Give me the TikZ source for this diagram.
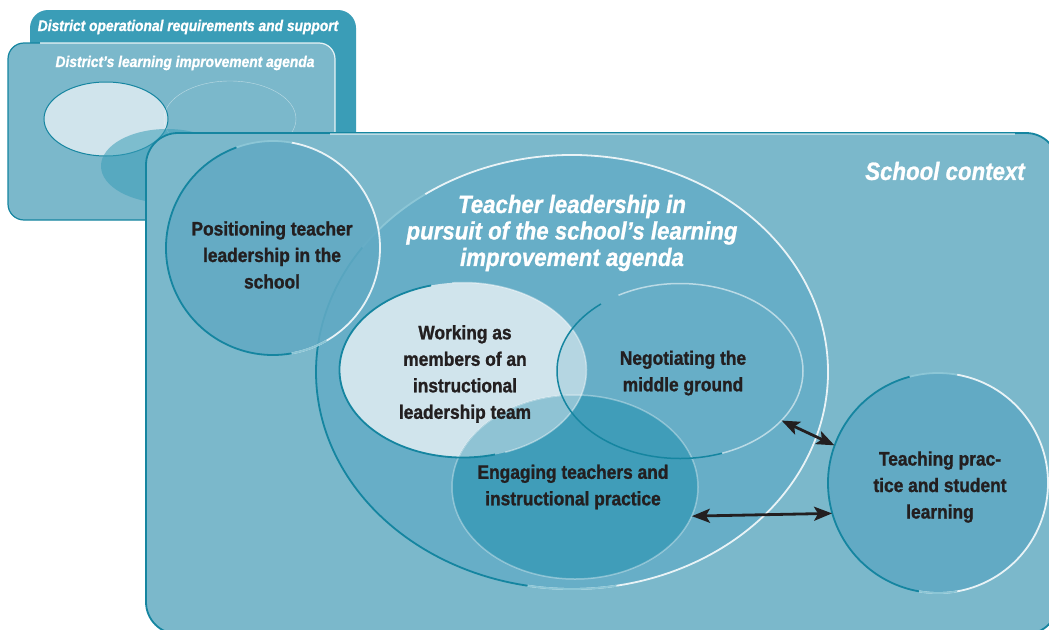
\documentclass[tikz,border=0pt]{standalone}
\usepackage{fontspec}
\newfontfamily\narrowsans[FakeStretch=0.89,BoldFeatures={FakeBold=1.2},BoldItalicFeatures={FakeBold=1}]{Liberation Sans}
\usetikzlibrary{shapes.geometric,arrows.meta}

\definecolor{opfill}{HTML}{3A9DB7}
\definecolor{ctxfill}{HTML}{7BB8CB}
\definecolor{circfill}{HTML}{62AAC4}
\definecolor{bigfill}{HTML}{67AEC7}
\definecolor{workfill}{HTML}{D0E4EC}
\definecolor{engfill}{HTML}{409DB9}
\definecolor{mixfill}{HTML}{8FC3D4}
\definecolor{rim}{HTML}{1585A0}
\definecolor{rimmid}{HTML}{8CC6D6}
\definecolor{ink}{HTML}{231F20}

\begin{document}
\begin{tikzpicture}[x=1pt,y=-1pt,>={Stealth[length=18pt,width=14pt,inset=4pt]},
  blob/.style={ellipse,inner sep=0pt},
  ball/.style={circle,inner sep=0pt},
  tealrim/.style={draw=rim,line width=1.8pt},
  midrim/.style={draw=rimmid,line width=1.8pt},
  whiterim/.style={draw=white,line width=1.8pt,draw opacity=.85},
  lbl/.style={font=\narrowsans\bfseries\fontsize{19.5}{26.5}\selectfont,text=ink,align=center},
  ttl/.style={font=\narrowsans\bfseries\itshape\fontsize{25}{26.5}\selectfont,text=white,align=center},
  boxttl/.style={font=\narrowsans\bfseries\itshape\fontsize{15.5}{18}\selectfont,text=white}]
\useasboundingbox (0,0) rectangle (1049,629);

% district boxes behind
\fill[opfill,rounded corners=18pt] (30,10) rectangle (356,200);
\fill[ctxfill,rounded corners=16pt] (8,43) rectangle (335,220);
\draw[tealrim,line width=1.2pt,rounded corners=16pt] (40,43) -- (8,43) -- (8,220) -- (160,220);
\draw[whiterim,line width=1.2pt,rounded corners=16pt] (40,43) -- (335,43) -- (335,200);
\node[boxttl] (opttl) at (188,27) {District operational requirements and support};
\node[boxttl] (agttl) at (185,63) {District’s learning improvement agenda};

% small copy of the three ellipses
\draw[rim,line width=1pt,fill=workfill] (106,119) ellipse[x radius=62pt,y radius=37pt];
\draw[white,opacity=.5] (230,119) ellipse[x radius=66pt,y radius=38pt];
\fill[opfill,opacity=.55] (167,166) ellipse[x radius=66pt,y radius=37pt];

% school context
\draw[tealrim,fill=ctxfill,rounded corners=32pt] (146,133) rectangle (1058,634);
\draw[white,opacity=.5,line width=1.2pt] (330,134) -- (1015,134);
\node[ttl] (ctxttl) at (945,171) {School context};

% teacher leadership ellipse
\node[blob,fill=bigfill,minimum width=512pt,minimum height=434pt] (tl) at (572,372) {};
\draw[whiterim] ([shift={(125:256pt and 217pt)}]tl.center) arc[start angle=125,end angle=-100,x radius=256pt,y radius=217pt];
\draw[midrim] ([shift={(125:256pt and 217pt)}]tl.center) arc[start angle=125,end angle=145,x radius=256pt,y radius=217pt];
\draw[midrim] ([shift={(-100:256pt and 217pt)}]tl.center) arc[start angle=-100,end angle=-80,x radius=256pt,y radius=217pt];
\draw[tealrim] ([shift={(145:256pt and 217pt)}]tl.center) arc[start angle=145,end angle=260,x radius=256pt,y radius=217pt];
\node[ttl] (tlttl) at (572,233) {Teacher leadership in\\pursuit of the school’s learning\\improvement agenda};

% positioning circle
\node[ball,fill=circfill,fill opacity=.88,minimum size=214pt] (pos) at (273,248) {};
\draw[whiterim] ([shift={(80:107pt)}]pos.center) arc[start angle=80,end angle=-80,radius=107pt];
\draw[midrim] ([shift={(80:107pt)}]pos.center) arc[start angle=80,end angle=110,radius=107pt];
\draw[midrim] ([shift={(-80:107pt)}]pos.center) arc[start angle=-80,end angle=-60,radius=107pt];
\draw[tealrim] ([shift={(110:107pt)}]pos.center) arc[start angle=110,end angle=280,radius=107pt];
\node[lbl] (postxt) at (272,255) {Positioning teacher\\leadership in the\\school};

% the three inner ellipses
\node[blob,fill=workfill,minimum width=247pt,minimum height=175pt] (work) at (463,370) {};
\node[blob,fill=bigfill,fill opacity=.25,minimum width=246pt,minimum height=175pt] (neg) at (680,371) {};
\node[blob,fill=engfill,minimum width=246pt,minimum height=184pt] (eng) at (575,487) {};
\begin{scope}
  \clip (463,370) ellipse[x radius=123.5pt,y radius=87.5pt];
  \fill[mixfill] (575,487) ellipse[x radius=123pt,y radius=92pt];
\end{scope}
\draw[white,opacity=.35,line width=1.5pt] (eng) ellipse[x radius=123pt,y radius=92pt];
\draw[white,opacity=.4,line width=1.5pt] ([shift={(95:123.5pt and 87.5pt)}]work.center) arc[start angle=95,end angle=-70,x radius=123.5pt,y radius=87.5pt];
\draw[tealrim] ([shift={(105:123.5pt and 87.5pt)}]work.center) arc[start angle=105,end angle=285,x radius=123.5pt,y radius=87.5pt];
\draw[white,opacity=.55,line width=1.5pt] ([shift={(120:123pt and 87.5pt)}]neg.center) arc[start angle=120,end angle=-70,x radius=123pt,y radius=87.5pt];
\draw[tealrim,line width=1.5pt] ([shift={(130:123pt and 87.5pt)}]neg.center) arc[start angle=130,end angle=290,x radius=123pt,y radius=87.5pt];

\node[lbl] (worktxt) at (465,374) {Working as\\members of an\\instructional\\leadership team};
\node[lbl] (negtxt) at (683,373) {Negotiating the\\middle ground};
\node[lbl] (engtxt) at (573,487) {Engaging teachers and\\instructional practice};

% teaching circle
\node[ball,fill=circfill,minimum size=220pt] (teach) at (938,483) {};
\draw[whiterim] ([shift={(80:110pt)}]teach.center) arc[start angle=80,end angle=-100,radius=110pt];
\draw[midrim] ([shift={(80:110pt)}]teach.center) arc[start angle=80,end angle=105,radius=110pt];
\draw[midrim] ([shift={(-100:110pt)}]teach.center) arc[start angle=-100,end angle=-80,radius=110pt];
\draw[tealrim] ([shift={(105:110pt)}]teach.center) arc[start angle=105,end angle=260,radius=110pt];
\node[lbl] (teachtxt) at (940,487) {Teaching prac-\\tice and student\\learning};

% links
\draw[<->,ink,line width=2.8pt] (neg.-26) -- (teach.160);
\draw[<->,ink,line width=2.8pt] (eng.-14) -- (teach.196);

\end{tikzpicture}
\end{document}
